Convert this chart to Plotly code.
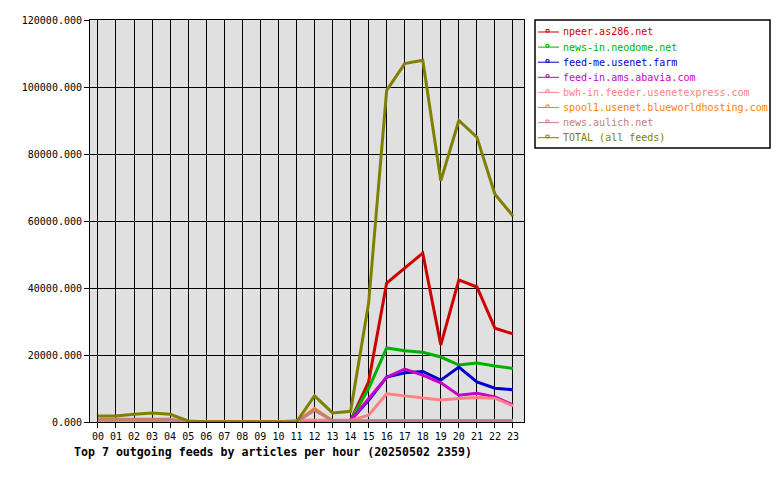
import plotly.graph_objects as go

hours = list(range(24))
hour_labels = [f"{h:02d}" for h in hours]

series_names = [
    "npeer.as286.net",
    "news-in.neodome.net",
    "feed-me.usenet.farm",
    "feed-in.ams.abavia.com",
    "bwh-in.feeder.usenetexpress.com",
    "spool1.usenet.blueworldhosting.com",
    "news.aulich.net",
    "TOTAL (all feeds)",
]
series_colors = ["#d00000", "#00b000", "#0000d0", "#c800c8", "#ff8080", "#ff8000", "#c08080", "#808000"]

npeer = [0, 0, 0, 0, 0, 0, 0, 0, 0, 0, 0, 0, 0, 0, 500, 12000, 41500, 46000, 50400, 23000, 42400, 40300, 28000, 26300]
neodome = [0, 0, 0, 0, 0, 0, 0, 0, 0, 0, 0, 0, 0, 0, 500, 10000, 22100, 21300, 20800, 19400, 17000, 17600, 16700, 16000]
usenetfarm = [0, 0, 0, 0, 0, 0, 0, 0, 0, 0, 0, 0, 0, 0, 500, 6500, 13400, 14700, 15100, 12500, 16400, 12000, 10100, 9600]
abavia = [0, 0, 0, 0, 0, 0, 0, 0, 0, 0, 0, 0, 0, 0, 500, 7000, 13400, 15800, 14000, 11700, 8000, 8600, 7500, 5100]
usenetexpress = [0, 0, 0, 0, 0, 0, 0, 0, 0, 0, 0, 500, 500, 500, 500, 2000, 8400, 7800, 7100, 6600, 7000, 7300, 7100, 4800]
blueworld = [700, 700, 700, 700, 700, 0, 0, 0, 0, 0, 0, 0, 4000, 400, 400, 400, 400, 400, 400, 400, 400, 400, 400, 400]
aulich = [800, 800, 800, 800, 800, 0, 0, 0, 0, 0, 0, 0, 3500, 400, 400, 400, 400, 400, 400, 400, 400, 400, 400, 400]
total = [1800, 1800, 2300, 2700, 2300, 300, 0, 0, 0, 0, 0, 0, 7800, 2700, 3200, 35500,
         99000, 107000, 108000, 72000, 90000, 85000, 68000, 61500]

all_series = [npeer, neodome, usenetfarm, abavia, usenetexpress, blueworld, aulich, total]

W, H = 780, 480
L, R, T, B = 90, 256, 20, 58
PW, PH = W - L - R, H - T - B
MONO = "DejaVu Sans Mono"

fig = go.Figure()
for name, color, vals in zip(series_names, series_colors, all_series):
    fig.add_trace(go.Scatter(x=hours, y=vals, mode="lines", name=name,
                             line=dict(color=color, width=3), showlegend=False))


def px_x(px):
    return (px - L) / PW


def px_y(py):
    return (H - B - py) / PH


shapes = []
annotations = []
# legend box
shapes.append(dict(type="rect", xref="paper", yref="paper",
                   x0=px_x(535), x1=px_x(770), y0=px_y(148), y1=px_y(20),
                   line=dict(color="black", width=1.5), fillcolor="white", layer="above"))
for i, (name, color) in enumerate(zip(series_names, series_colors)):
    cy = 32 + i * 15.1
    shapes.append(dict(type="line", xref="paper", yref="paper",
                       x0=px_x(538), x1=px_x(559), y0=px_y(cy), y1=px_y(cy),
                       line=dict(color=color, width=1), layer="above"))
    shapes.append(dict(type="rect", xref="paper", yref="paper",
                       x0=px_x(546), x1=px_x(549), y0=px_y(cy), y1=px_y(cy - 2.5),
                       line=dict(color=color, width=1), layer="above"))
    annotations.append(dict(xref="paper", yref="paper", x=px_x(561), y=px_y(cy),
                            xanchor="left", yanchor="middle", showarrow=False,
                            text=name, font=dict(family=MONO, size=10, color=color)))

annotations.append(dict(xref="paper", yref="paper", x=px_x(72), y=px_y(452),
                        xanchor="left", yanchor="middle", showarrow=False,
                        text="<b>Top 7 outgoing feeds by articles per hour (20250502 2359)</b>",
                        font=dict(family=MONO, size=11.6, color="black")))

fig.update_layout(
    width=W, height=H,
    margin=dict(l=L, r=R, t=T, b=B, pad=0),
    paper_bgcolor="white", plot_bgcolor="#e0e0e0",
    showlegend=False,
    shapes=shapes, annotations=annotations,
    font=dict(family=MONO, size=10, color="black"),
)
fig.update_xaxes(range=[-0.44, 23.61], tickmode="array", tickvals=hours, ticktext=hour_labels,
                 showgrid=True, gridcolor="black", gridwidth=1,
                 showline=True, linecolor="black", linewidth=1, mirror=True,
                 ticks="outside", ticklen=5, tickcolor="black", zeroline=False,
                 tickfont=dict(family=MONO, size=10))
fig.update_yaxes(range=[0, 120000], tickmode="linear", tick0=0, dtick=20000, tickformat=".3f",
                 showgrid=True, gridcolor="black", gridwidth=1,
                 showline=True, linecolor="black", linewidth=1, mirror=True,
                 ticks="outside", ticklen=5, tickcolor="black", zeroline=False,
                 tickfont=dict(family=MONO, size=10))

fig.write_html("out.html")
